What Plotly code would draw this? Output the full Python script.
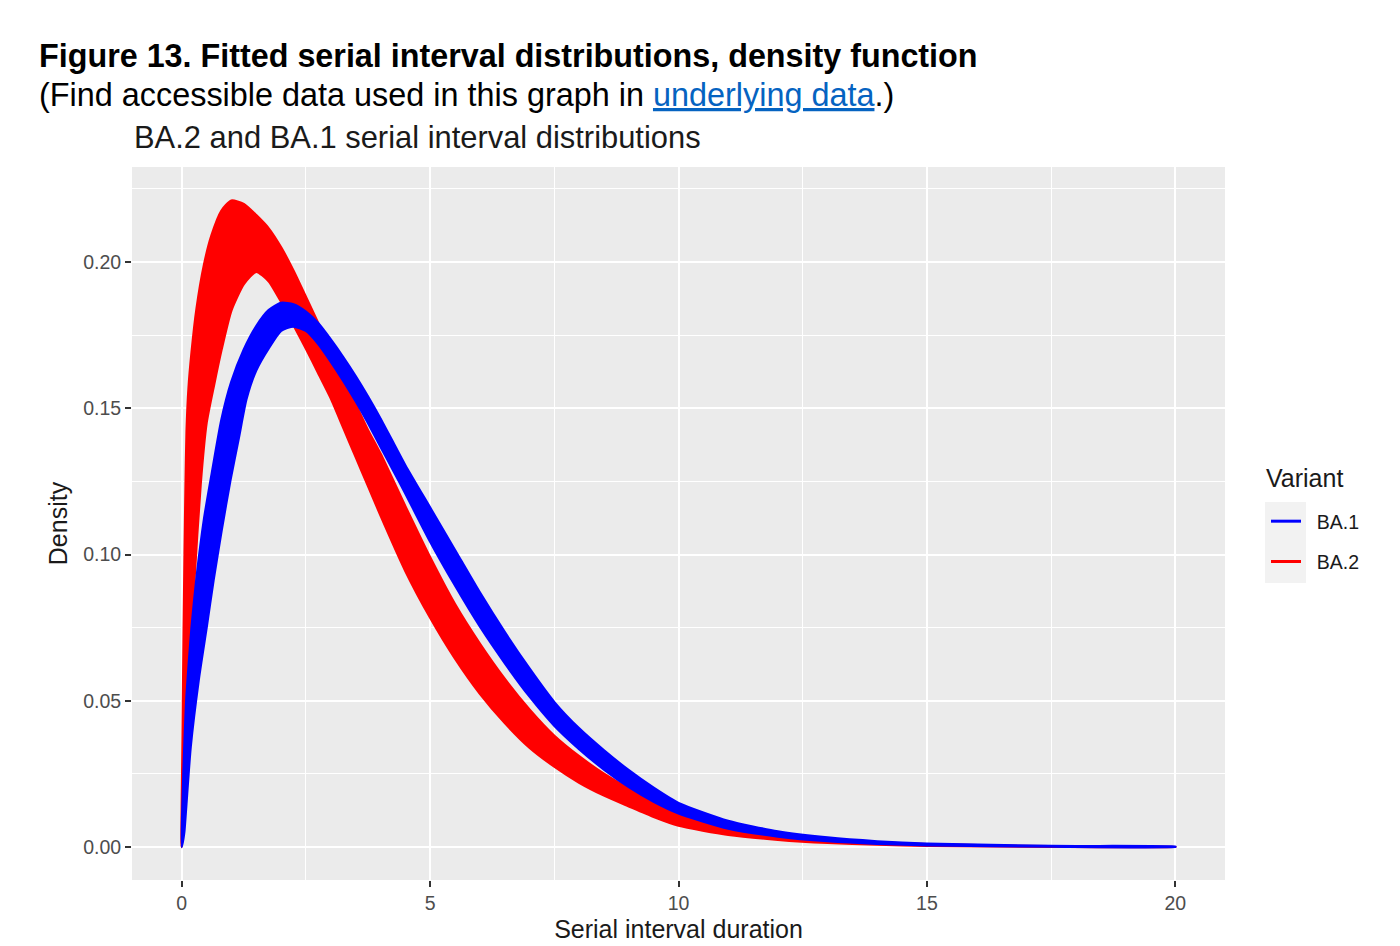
import plotly.graph_objects as go

# ---------------- data ----------------
# BA.2 (red) band: upper and lower envelope of the fitted density curves
ba2_upper_x = [0, 0.02, 0.04, 0.06, 0.08, 0.1, 0.14, 0.2, 0.3, 0.45, 0.6, 0.8, 1.0, 1.25, 1.5,
               1.75, 2.0, 2.25, 2.5, 2.75, 3.0, 3.25, 3.5, 3.75, 4.0, 4.5, 5.0, 5.5, 6.0, 6.5,
               7.0, 7.5, 8.0, 8.5, 9.0, 9.5, 10, 11, 12, 13, 14, 15, 17.5, 20]
ba2_upper_y = [0, 0.038, 0.072, 0.100, 0.124, 0.142, 0.157, 0.169, 0.184, 0.199, 0.209, 0.2175,
               0.221, 0.2198, 0.216, 0.2115, 0.205, 0.197, 0.188, 0.179, 0.1695, 0.1605, 0.1515,
               0.1425, 0.1345, 0.1165, 0.099, 0.083, 0.0695, 0.0575, 0.047, 0.038, 0.031, 0.025,
               0.020, 0.0158, 0.0124, 0.0075, 0.0045, 0.0027, 0.0016, 0.0009, 0.0002, 0.00005]
ba2_lower_x = [0, 0.05, 0.1, 0.15, 0.25, 0.38, 0.5, 0.65, 0.8, 1.0, 1.25, 1.5, 1.75, 2.0, 2.25,
               2.5, 2.75, 3.0, 3.25, 3.5, 3.75, 4.0, 4.5, 5.0, 5.5, 6.0, 6.5, 7.0, 7.5, 8.0,
               8.5, 9.0, 9.5, 10, 11, 12, 13, 14, 15, 17.5, 20]
ba2_lower_y = [0, 0.012, 0.033, 0.055, 0.090, 0.124, 0.145, 0.158, 0.170, 0.1835, 0.1925,
               0.1967, 0.1935, 0.1865, 0.1785, 0.1705, 0.162, 0.1535, 0.1435, 0.1335, 0.1235,
               0.1135, 0.0945, 0.0785, 0.0645, 0.0525, 0.0425, 0.034, 0.0275, 0.022, 0.0176,
               0.0139, 0.0103, 0.0073, 0.0042, 0.0025, 0.0014, 0.0008, 0.00045, 0.0001, 0.00002]

# BA.1 (blue) band
ba1_upper_x = [0, 0.02, 0.05, 0.1, 0.2, 0.3, 0.45, 0.6, 0.8, 1.0, 1.25, 1.5, 1.75, 2.0, 2.25,
               2.5, 2.75, 3.0, 3.25, 3.5, 3.75, 4.0, 4.25, 4.5, 5.0, 5.5, 6.0, 6.5, 7.0, 7.5,
               8.0, 8.5, 9.0, 9.5, 10, 11, 12, 13, 14, 15, 17.5, 20]
ba1_upper_y = [0, 0.016, 0.032, 0.052, 0.075, 0.092, 0.112, 0.127, 0.146, 0.159, 0.170, 0.178,
               0.1835, 0.186, 0.1855, 0.183, 0.179, 0.1735, 0.1675, 0.161, 0.154, 0.1465, 0.1385,
               0.1305, 0.116, 0.1015, 0.087, 0.0735, 0.061, 0.0495, 0.0405, 0.033, 0.0262, 0.0202,
               0.015, 0.0089, 0.0053, 0.0032, 0.0019, 0.0011, 0.0003, 0.0001]
ba1_lower_x = [0, 0.05, 0.08, 0.18, 0.34, 0.5, 0.64, 0.8, 0.98, 1.15, 1.3, 1.5, 1.75, 2.0, 2.25,
               2.5, 2.75, 3.0, 3.25, 3.5, 3.75, 4.0, 4.25, 4.5, 5.0, 5.5, 6.0, 6.5, 7.0, 7.5, 8.0,
               8.5, 9.0, 9.5, 10, 11, 12, 13, 14, 15, 17.5, 20]
ba1_lower_y = [0, 0.005, 0.0116, 0.0343, 0.057, 0.075, 0.0913, 0.108, 0.1255, 0.140, 0.153,
               0.163, 0.1705, 0.1765, 0.178, 0.1765, 0.172, 0.166, 0.1595, 0.1525, 0.145, 0.137,
               0.129, 0.121, 0.1045, 0.0895, 0.0755, 0.063, 0.0515, 0.0415, 0.0335, 0.0265,
               0.0205, 0.0155, 0.0115, 0.0063, 0.0036, 0.002, 0.0011, 0.0006, 0.00015, 0.00003]

variants = ["BA.1", "BA.2"]
colors = {"BA.1": "#0000FF", "BA.2": "#FF0000"}

x_ticks = [0, 5, 10, 15, 20]
y_ticks = [0.00, 0.05, 0.10, 0.15, 0.20]
y_tick_text = ["0.00", "0.05", "0.10", "0.15", "0.20"]

# ---------------- figure ----------------
fig = go.Figure()

bands = [
    ("BA.2", ba2_upper_x, ba2_upper_y, ba2_lower_x, ba2_lower_y),
    ("BA.1", ba1_upper_x, ba1_upper_y, ba1_lower_x, ba1_lower_y),
]
for name, ux, uy, lx, ly in bands:
    px = list(ux) + list(reversed(lx))
    py = list(uy) + list(reversed(ly))
    fig.add_trace(go.Scatter(
        x=px, y=py, mode="lines", fill="toself",
        fillcolor=colors[name],
        line=dict(color=colors[name], width=2.5, shape="spline", smoothing=0.6),
        showlegend=False, hoverinfo="skip",
    ))

# legend entries (line keys as in ggplot)
for name in variants:
    fig.add_trace(go.Scatter(
        x=[None], y=[None], mode="lines", name="\u00a0\u00a0" + name,
        line=dict(color=colors[name], width=3),
        legendgroup=name, showlegend=True,
    ))

# page offset: the page body has an 8px margin
OFF = 8
W, H = 1400 - OFF, 946 - OFF
L, T = 132 - OFF, 167 - OFF
R = W - (1225 - OFF)
B = H - (880 - OFF)
pw, ph = W - L - R, H - T - B


def px2x(p):
    return (p - OFF - L) / pw


def py2y(p):
    return (H - B - (p - OFF)) / ph


font_family = "Liberation Sans, Arial, Helvetica, sans-serif"

fig.update_layout(
    width=W, height=H,
    margin=dict(l=L, r=R, t=T, b=B, autoexpand=False),
    paper_bgcolor="white",
    plot_bgcolor="#EBEBEB",
    font=dict(family=font_family, color="#4D4D4D"),
    xaxis=dict(
        range=[-1, 21], tickvals=x_ticks, ticktext=[str(v) for v in x_ticks],
        showgrid=True, gridcolor="white", gridwidth=2.4,
        minor=dict(dtick=2.5, tick0=0, showgrid=True, gridcolor="white", gridwidth=1.2),
        zeroline=False, showline=False,
        ticks="outside", ticklen=6, tickwidth=1.5, tickcolor="#333333",
        tickfont=dict(size=19.5, color="#4D4D4D"),
        title=dict(text="Serial interval duration", standoff=7,
                   font=dict(size=25, color="#1A1A1A")),
    ),
    yaxis=dict(
        range=[-0.0113, 0.2325], tickvals=y_ticks, ticktext=y_tick_text,
        showgrid=True, gridcolor="white", gridwidth=2.4,
        minor=dict(dtick=0.025, tick0=0, showgrid=True, gridcolor="white", gridwidth=1.2),
        zeroline=False, showline=False,
        ticks="outside", ticklen=6, tickwidth=1.5, tickcolor="#333333",
        tickfont=dict(size=19.5, color="#4D4D4D"),
        title=dict(text="Density", standoff=8, font=dict(size=25, color="#1A1A1A")),
    ),
    legend=dict(
        font=dict(size=19.5, color="#1A1A1A"),
        x=px2x(1266), xanchor="left",
        y=py2y(502), yanchor="top",
        bgcolor="rgba(0,0,0,0)", borderwidth=0,
        tracegroupgap=12, itemwidth=30,
    ),
    shapes=[dict(
        type="rect", xref="paper", yref="paper", layer="below",
        x0=px2x(1265), x1=px2x(1306), y0=py2y(583), y1=py2y(502),
        fillcolor="#F2F2F2", line=dict(width=0),
    )],
    annotations=[
        dict(text="<b>Figure 13. Fitted serial interval distributions, density function</b>",
             xref="paper", yref="paper", x=px2x(37), y=py2y(56), xanchor="left", yanchor="middle",
             showarrow=False, font=dict(size=32.3, color="#000000")),
        dict(text="(Find accessible data used in this graph in "
                  "<span style='color:#0563C1;text-decoration:underline'>underlying data</span>.)",
             xref="paper", yref="paper", x=px2x(37), y=py2y(95), xanchor="left", yanchor="middle",
             showarrow=False, font=dict(size=32.4, color="#000000")),
        dict(text="BA.2 and BA.1 serial interval distributions",
             xref="paper", yref="paper", x=px2x(132), y=py2y(137), xanchor="left", yanchor="middle",
             showarrow=False, font=dict(size=30.9, color="#1A1A1A")),
        dict(text="Variant",
             xref="paper", yref="paper", x=px2x(1264), y=py2y(478), xanchor="left", yanchor="middle",
             showarrow=False, font=dict(size=25, color="#1A1A1A")),
    ],
)

fig.write_html("out.html")
